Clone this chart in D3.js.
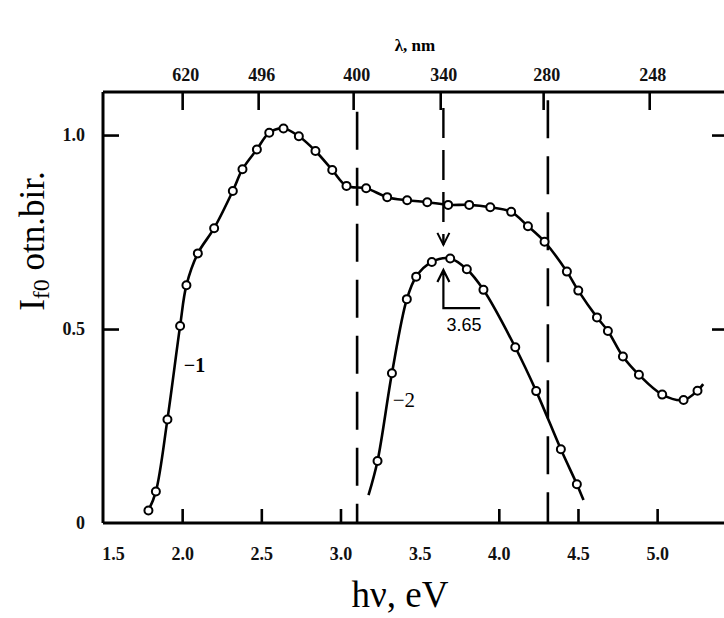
<!DOCTYPE html>
<html>
<head>
<meta charset="utf-8">
<script src="https://cdn.jsdelivr.net/npm/d3@7"></script>
<style>
  body { margin: 0; background: #fff; }
  svg { display: block; }
  .ax path, .ax line { stroke: #000; }
</style>
</head>
<body>
<svg id="chart" width="724" height="618"></svg>
<script>
// curve 1 (hv in eV, intensity)
var curve1_hv = [1.787, 1.834, 1.907, 1.987, 2.027, 2.099, 2.202, 2.320, 2.381, 2.472, 2.550, 2.640, 2.737, 2.842, 2.948, 3.038,
                 3.162, 3.295, 3.421, 3.548, 3.680, 3.813, 3.946, 4.078, 4.184, 4.289, 4.430, 4.502, 4.620, 4.689, 4.784, 4.885, 5.032, 5.167, 5.255];
var curve1_I  = [0.032, 0.081, 0.267, 0.508, 0.613, 0.695, 0.760, 0.856, 0.912, 0.963, 1.006, 1.017, 0.997, 0.959, 0.910, 0.869,
                 0.863, 0.840, 0.832, 0.827, 0.820, 0.820, 0.814, 0.802, 0.765, 0.725, 0.648, 0.599, 0.530, 0.495, 0.429, 0.382, 0.331, 0.317, 0.341];
var curve1_tail = [5.291, 0.358];

// curve 2
var curve2_hv = [3.234, 3.325, 3.419, 3.478, 3.577, 3.693, 3.798, 3.903, 4.104, 4.236, 4.392, 4.493];
var curve2_I  = [0.160, 0.386, 0.577, 0.635, 0.673, 0.682, 0.654, 0.601, 0.453, 0.340, 0.190, 0.100];
var curve2_head = [3.177, 0.072];
var curve2_tail = [4.535, 0.059];

var xTicks = [2.0, 2.5, 3.0, 4.0, 4.5, 5.0];
var xLabels = [1.5, 2.0, 2.5, 3.0, 3.5, 4.0, 4.5, 5.0];
var yTicks = [0, 0.5, 1.0];
// top wavelength axis: where the picture puts each label (in eV)
var lambdaPos = [2.0, 2.48, 3.08, 3.63, 4.28, 4.95];
var lambdaLab = ["620", "496", "400", "340", "280", "248"];
var dashedLines = [3.105, 4.31];
var peak2 = 3.65;

var svg = d3.select("#chart");
svg.append("rect").attr("width", 724).attr("height", 618).attr("fill", "#fff");

var L = 103, R = 726, T = 92, B = 523;
var x = d3.scaleLinear().domain([1.5, 5.435]).range([L, R]);
var y = d3.scaleLinear().domain([0, 1.111]).range([B, T]);

function styleLabels(s){
	s.select(".domain").remove();
	s.selectAll("text")
		.style("font-family", "'Liberation Serif', 'DejaVu Serif', serif")
		.style("font-weight", "bold").style("font-size", "18px").style("fill", "#111");
}

var g = svg.append("g");

// dashed verticals
dashedLines.forEach(function(v, i){
	g.append("line")
		.attr("x1", x(v)).attr("x2", x(v))
		.attr("y1", i == 0 ? y(1.06) : y(1.09)).attr("y2", B)
		.attr("stroke", "#000").attr("stroke-width", 2.6)
		.attr("stroke-dasharray", "38,18");
});

// peak marker of curve 2: dashed arrow from the top, and the L-shaped pointer
g.append("line")
	.attr("x1", x(peak2)).attr("x2", x(peak2))
	.attr("y1", y(1.07)).attr("y2", y(0.717))
	.attr("stroke", "#000").attr("stroke-width", 2.4)
	.attr("stroke-dasharray", "30,12");
g.append("path")
	.attr("d", "M" + (x(peak2) - 6) + "," + (y(0.717) - 12) + "L" + x(peak2) + "," + y(0.717) + "L" + (x(peak2) + 6) + "," + (y(0.717) - 12))
	.attr("fill", "none").attr("stroke", "#000").attr("stroke-width", 2);
g.append("path")
	.attr("d", "M" + (x(peak2) - 6) + "," + (y(0.652) + 12) + "L" + x(peak2) + "," + y(0.652) + "L" + (x(peak2) + 6) + "," + (y(0.652) + 12)
		+ "M" + x(peak2) + "," + y(0.652) + "L" + x(peak2) + "," + y(0.554) + "L" + x(3.882) + "," + y(0.554))
	.attr("fill", "none").attr("stroke", "#000").attr("stroke-width", 2.2);
g.append("text")
	.attr("x", x(3.78)).attr("y", y(0.495))
	.attr("text-anchor", "middle")
	.style("font-family", "'Liberation Sans', Arial, sans-serif").style("font-size", "18px")
	.text(peak2.toFixed(2));

// curves
var line = d3.line()
	.x(function(d){ return x(d[0]); })
	.y(function(d){ return y(d[1]); })
	.curve(d3.curveCatmullRom.alpha(0.5));

var c1 = curve1_hv.map(function(v, i){ return [v, curve1_I[i]]; });
var c2 = curve2_hv.map(function(v, i){ return [v, curve2_I[i]]; });

g.append("path").datum(c1.concat([curve1_tail]))
	.attr("d", line).attr("fill", "none").attr("stroke", "#000").attr("stroke-width", 2.6);
g.append("path").datum([curve2_head].concat(c2, [curve2_tail]))
	.attr("d", line).attr("fill", "none").attr("stroke", "#000").attr("stroke-width", 2.6);

[c1, c2].forEach(function(pts){
	g.selectAll(null).data(pts).enter().append("circle")
		.attr("cx", function(d){ return x(d[0]); })
		.attr("cy", function(d){ return y(d[1]); })
		.attr("r", 4).attr("fill", "#fff").attr("stroke", "#000").attr("stroke-width", 2);
});

// curve labels
g.append("text").attr("x", x(2.01)).attr("y", y(0.39))
	.style("font-family", "'Liberation Serif', serif").style("font-weight", "bold").style("font-size", "20px")
	.text("\u22121");
g.append("text").attr("x", x(3.33)).attr("y", y(0.3))
	.style("font-family", "'Liberation Serif', serif").style("font-size", "21px")
	.text("\u22122");

// frame
g.append("line").attr("x1", L).attr("x2", R).attr("y1", T).attr("y2", T).attr("stroke", "#000").attr("stroke-width", 3);
g.append("line").attr("x1", L).attr("x2", R).attr("y1", B).attr("y2", B).attr("stroke", "#000").attr("stroke-width", 3);
g.append("line").attr("x1", L).attr("x2", L).attr("y1", T).attr("y2", B).attr("stroke", "#000").attr("stroke-width", 3);

// bottom ticks (inward) and labels
g.append("g").attr("class", "ax").attr("transform", "translate(0," + B + ")")
	.call(d3.axisTop(x).tickValues(xTicks).tickSize(14).tickFormat(""))
	.call(function(s){ s.select(".domain").remove(); s.selectAll("line").attr("stroke-width", 2.6); });
var bl = g.append("g").attr("transform", "translate(0," + B + ")")
	.call(d3.axisBottom(x).tickValues(xLabels).tickSize(0).tickPadding(24).tickFormat(d3.format(".1f")))
	.call(styleLabels);
bl.selectAll("text").attr("dx", function(d){ return d == 1.5 ? 10 : 0; });

// top wavelength ticks (inward)
g.append("g").attr("class", "ax").attr("transform", "translate(0," + T + ")")
	.call(d3.axisBottom(x).tickValues(lambdaPos).tickSize(18).tickFormat(""))
	.call(function(s){ s.select(".domain").remove(); s.selectAll("line").attr("stroke-width", 2.6); });
var tl = g.append("g").attr("transform", "translate(0," + T + ")")
	.call(d3.axisTop(x).tickValues(lambdaPos).tickSize(0).tickPadding(11)
		.tickFormat(function(d, i){ return lambdaLab[i]; }))
	.call(styleLabels);
tl.selectAll("text").attr("dx", 3);

// left ticks and labels
var yl = g.append("g").attr("class", "ax").attr("transform", "translate(" + L + ",0)")
	.call(d3.axisRight(y).tickValues(yTicks.filter(function(d){ return d > 0; })).tickSize(16).tickFormat(""));
yl.select(".domain").remove();
yl.selectAll("line").attr("stroke-width", 2.6);
g.append("g").attr("transform", "translate(" + L + ",0)")
	.call(d3.axisLeft(y).tickValues(yTicks).tickSize(0).tickPadding(18)
		.tickFormat(function(d){ return d == 0 ? "0" : d3.format(".1f")(d); }))
	.call(styleLabels);

// right ticks (edge of the picture)
var yr = g.append("g").attr("class", "ax").attr("transform", "translate(" + R + ",0)")
	.call(d3.axisLeft(y).tickValues(yTicks.filter(function(d){ return d > 0; })).tickSize(14).tickFormat(""));
yr.select(".domain").remove();
yr.selectAll("line").attr("stroke-width", 2.6);

// titles
svg.append("text").attr("x", 415).attr("y", 51).attr("text-anchor", "middle")
	.style("font-family", "'Liberation Serif', serif").style("font-weight", "bold").style("font-size", "17px")
	.text("\u03bb, nm");
svg.append("text").attr("x", 400).attr("y", 607).attr("text-anchor", "middle")
	.style("font-family", "'Liberation Serif', serif").style("font-size", "37px")
	.text("h\u03bd, eV");
var yt = svg.append("text").attr("transform", "translate(44,241) rotate(-90)").attr("text-anchor", "middle")
	.style("font-family", "'Liberation Serif', serif").style("font-size", "35px");
yt.append("tspan").text("I");
yt.append("tspan").attr("dy", 5).style("font-size", "24px").text("f0");
yt.append("tspan").attr("dy", -5).text(" otn.bir.");
</script>
</body>
</html>
